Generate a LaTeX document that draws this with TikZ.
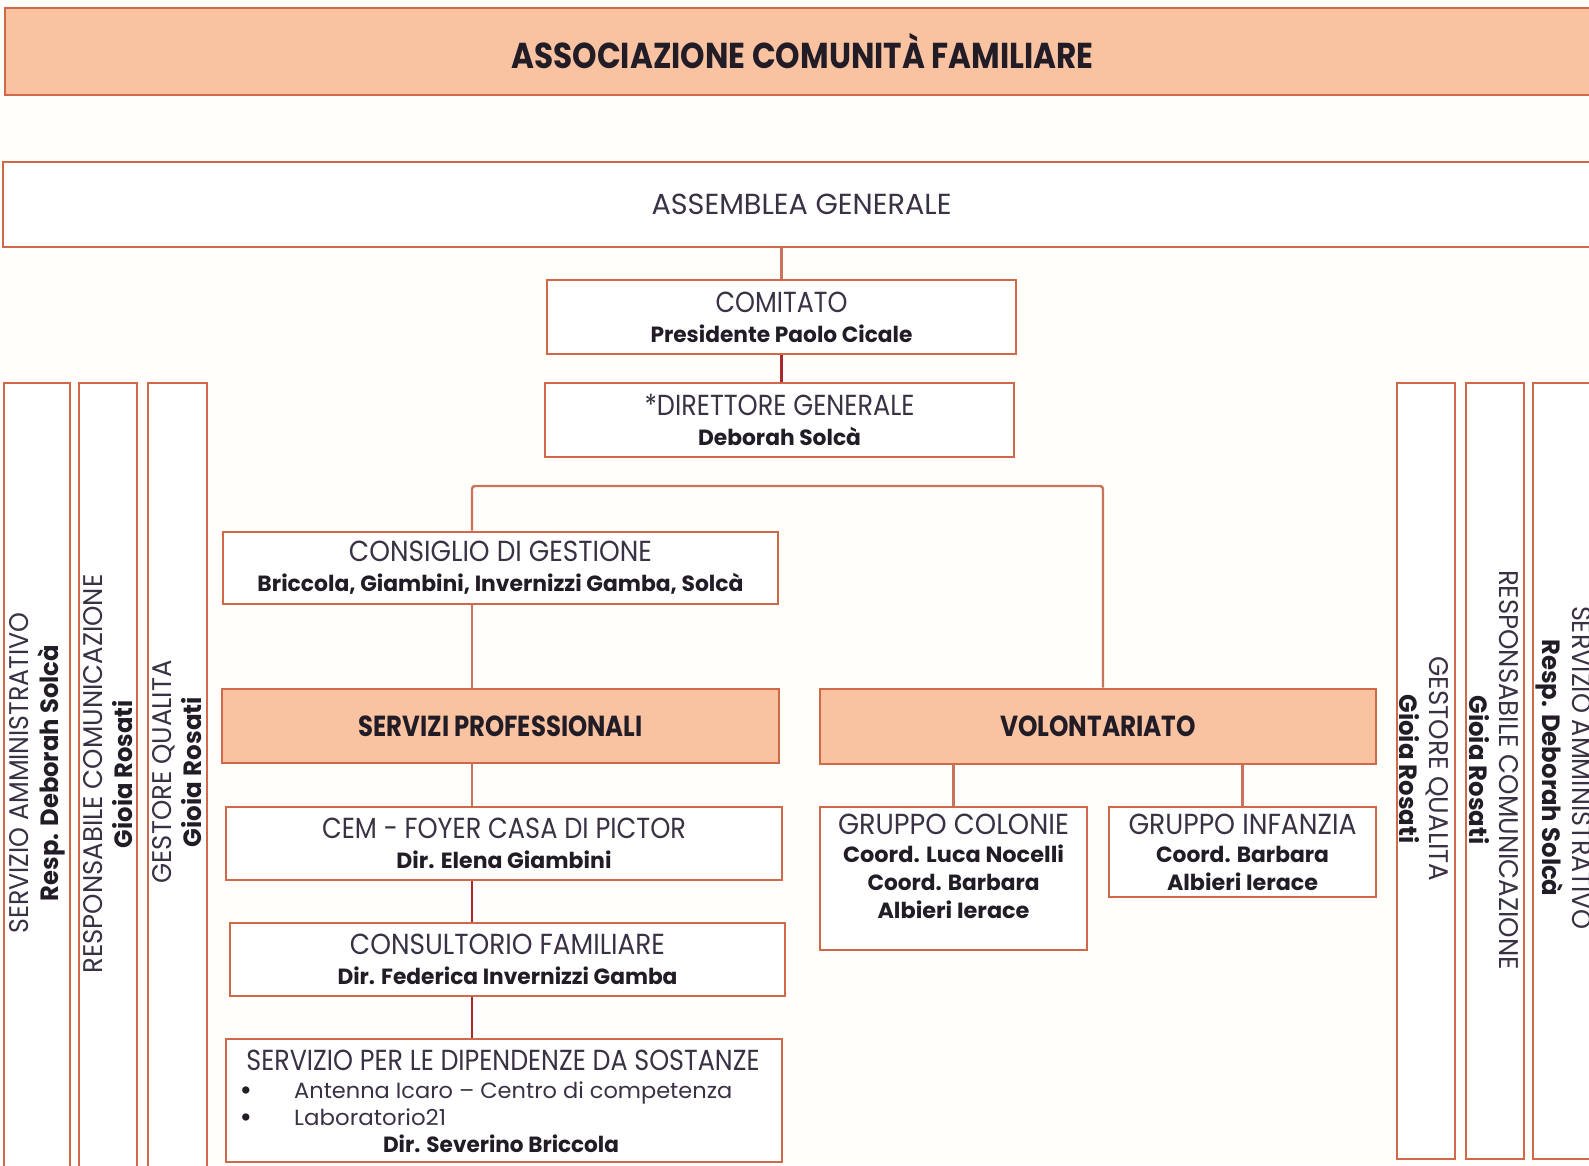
\documentclass[tikz,border=0pt]{standalone}
\usepackage{fontspec}
\usepackage{graphicx}
\setmainfont{Poppins}
\newfontfamily\ltf{Poppins}
\newfontfamily\bdf{Poppins}
\definecolor{bg}{HTML}{FFFEFA}
\definecolor{boxc}{HTML}{D2684A}
\definecolor{conc}{HTML}{C8735A}
\definecolor{redc}{HTML}{A8282C}
\definecolor{peach}{HTML}{F9C3A2}
\definecolor{txt}{HTML}{3A3244}
\definecolor{txtb}{HTML}{211C26}
% width-fitted text: #1 = width in pt, #2 = text
\newcommand\Hd[2]{\resizebox{#1pt}{\height}{\ltf\fontsize{29}{30}\selectfont #2}}
\newcommand\Nm[2]{\resizebox{#1pt}{\height}{\color{txtb}\bdf\bfseries\fontsize{22}{30}\selectfont #2}}
\newcommand\Rg[2]{\resizebox{#1pt}{\height}{\bdf\fontsize{22}{28}\selectfont #2}}
\newcommand\VHd[2]{\resizebox{#1pt}{\height}{\ltf\fontsize{27}{30}\selectfont #2}}
\newcommand\VNm[2]{\resizebox{#1pt}{\height}{\color{txtb}\bdf\bfseries\fontsize{25}{30}\selectfont #2}}
\newcommand\Tt[3]{\resizebox{#1pt}{\height}{\color{txtb}\bdf\bfseries\fontsize{#2}{36}\selectfont #3}}
\begin{document}
\begin{tikzpicture}[x=1pt,y=-1pt,
  box/.style={draw=boxc, line width=2.6pt, fill=white, inner sep=0pt, align=center, text=txt, font=\fontsize{20}{30}\selectfont},
  hbox/.style={box, fill=peach},
  vtext/.style={inner sep=0pt, align=center, text=txt, font=\fontsize{20}{30}\selectfont},
  conn/.style={draw=conc, line width=2.4pt},
  rconn/.style={draw=redc, line width=2.4pt}]
\clip (0,0) rectangle (1589,1165);
\fill[bg] (0,0) rectangle (1589,1165);

% header and assembly
\node[hbox, minimum width=1595, minimum height=87] (head) at (802.5,51.5)
  {\Tt{582}{36}{ASSOCIAZIONE COMUNITÀ FAMILIARE}};
\node[box, minimum width=1597, minimum height=85] (asm) at (801.5,204.5) {\Hd{300}{ASSEMBLEA GENERALE}};

\node[box, minimum width=469, minimum height=74] (com) at (781.5,317)
  {\Hd{132}{COMITATO}\\\Nm{262}{Presidente Paolo Cicale}};
\node[box, minimum width=469, minimum height=74] (dir) at (779.5,420)
  {\Hd{270}{*DIRETTORE GENERALE}\\\Nm{163}{Deborah Solcà}};

\node[box, minimum width=555, minimum height=72] (cons) at (500.5,568)
  {\Hd{303}{CONSIGLIO DI GESTIONE}\\\Nm{486}{Briccola, Giambini, Invernizzi Gamba, Solcà}};
\node[hbox, minimum width=557, minimum height=74] (sp) at (500.5,726)
  {\Tt{284}{29}{SERVIZI PROFESSIONALI}};
\node[hbox, minimum width=556, minimum height=75] (vol) at (1098,726.5)
  {\Tt{196}{29}{VOLONTARIATO}};

\node[box, minimum width=556, minimum height=73] (cem) at (504,843.5)
  {\Hd{364}{CEM - FOYER CASA DI PICTOR}\\\Nm{215}{Dir. Elena Giambini}};
\node[box, minimum width=555, minimum height=73] (cf) at (507.5,959.5)
  {\Hd{315}{CONSULTORIO FAMILIARE}\\\Nm{340}{Dir. Federica Invernizzi Gamba}};
\node[box, minimum width=556, minimum height=123] (sds) at (504,1100.5) {};
\node[vtext, anchor=base] (sds1) at (503,1070) {\Hd{513}{SERVIZIO PER LE DIPENDENZE DA SOSTANZE}};
\node[vtext, anchor=base] (sdsb1) at (246,1098) {{\color{txtb}\bdf\bfseries\fontsize{24}{28}\selectfont •}};
\node[vtext, anchor=base west] (sds2) at (294,1098) {\Rg{438}{Antenna Icaro – Centro di competenza}};
\node[vtext, anchor=base] (sdsb2) at (246,1125) {{\color{txtb}\bdf\bfseries\fontsize{24}{28}\selectfont •}};
\node[vtext, anchor=base west] (sds3) at (294,1125) {\Rg{152}{Laboratorio21}};
\node[vtext, anchor=base] (sds4) at (501,1152) {\Nm{236}{Dir. Severino Briccola}};

\node[box, minimum width=267, minimum height=143] (col) at (953.5,878.5) {};
\node[vtext] (colt) at (953.5,866)
  {\Hd{231}{GRUPPO COLONIE}\\[-2pt]\Nm{221}{Coord. Luca Nocelli}\\[-2pt]\Nm{172}{Coord. Barbara}\\[-2pt]\Nm{152}{Albieri Ierace}};
\node[box, minimum width=267, minimum height=90] (inf) at (1242.5,852) {};
\node[vtext] (inft) at (1242.5,852)
  {\Hd{228}{GRUPPO INFANZIA}\\[-2pt]\Nm{173}{Coord. Barbara}\\[-2pt]\Nm{151}{Albieri Ierace}};

% vertical side boxes
\node[box, minimum width=66, minimum height=807] (l1) at (37,786.5) {};
\node[box, minimum width=58, minimum height=807] (l2) at (108,786.5) {};
\node[box, minimum width=59, minimum height=807] (l3) at (177.5,786.5) {};
\node[vtext, rotate=90] (l1t) at (37.5,773) {\VHd{321}{SERVIZIO AMMINISTRATIVO}\\\VNm{256}{Resp. Deborah Solcà}};
\node[vtext, rotate=90] (l2t) at (108,774) {\VHd{399}{RESPONSABILE COMUNICAZIONE}\\\VNm{148}{Gioia Rosati}};
\node[vtext, rotate=90] (l3t) at (177.5,772) {\VHd{223}{GESTORE QUALITA}\\\VNm{150}{Gioia Rosati}};

\node[box, minimum width=58, minimum height=776] (r1) at (1426,771) {};
\node[box, minimum width=58, minimum height=776] (r2) at (1495,771) {};
\node[box, minimum width=77, minimum height=776] (r3) at (1571.5,771) {};
\node[vtext, rotate=-90] (r1t) at (1424,769) {\VHd{225}{GESTORE QUALITA}\\\VNm{149}{Gioia Rosati}};
\node[vtext, rotate=-90] (r2t) at (1493.5,770) {\VHd{400}{RESPONSABILE COMUNICAZIONE}\\\VNm{149}{Gioia Rosati}};
\node[vtext, rotate=-90] (r3t) at (1564,768) {\VHd{324}{SERVIZIO AMMINISTRATIVO}\\\VNm{257}{Resp. Deborah Solcà}};

% connectors
\coordinate (hl) at (472,486);
\coordinate (hr) at (1103,486);
\draw[conn] (com.north) -- (com.north |- asm.south);
\draw[rconn] (com.south) -- (com.south |- dir.north);
\draw[conn, rounded corners=3pt] (cons.north -| hl) -- (hl) -- (hr) -- (vol.north -| hr);
\draw[conn] (cons.south -| hl) -- (sp.north -| hl);
\draw[conn] (sp.south -| hl) -- (cem.north -| hl);
\draw[rconn] (cem.south -| hl) -- (cf.north -| hl);
\draw[rconn] (cf.south -| hl) -- (sds.north -| hl);
\draw[conn] (col.north) -- (col.north |- vol.south);
\draw[conn] (inf.north) -- (inf.north |- vol.south);
\end{tikzpicture}
\end{document}
